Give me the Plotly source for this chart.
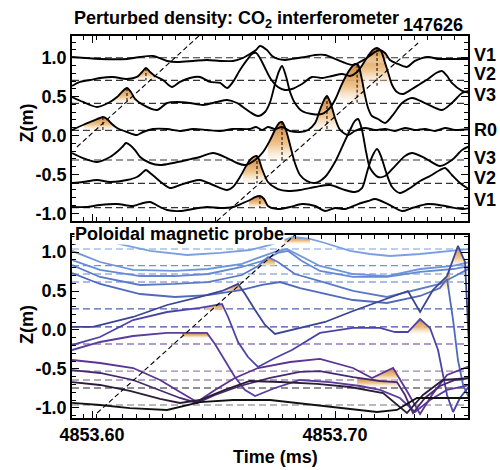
import numpy as np
import plotly.graph_objects as go

# ---------------- data: top panel, CO2 interferometer chords (t in ms, Z in m) -------------
V1U_t = [4853.5918, 4853.6033, 4853.6144, 4853.6198, 4853.6251, 4853.6309, 4853.6350, 4853.6416, 4853.6473, 4853.6527,
         4853.6580, 4853.6621, 4853.6650, 4853.6675, 4853.6691, 4853.6720, 4853.6741, 4853.6765, 4853.6794, 4853.6823,
         4853.6877, 4853.6918, 4853.6959, 4853.7000, 4853.7041, 4853.7074, 4853.7103, 4853.7136, 4853.7165, 4853.7185,
         4853.7206, 4853.7226, 4853.7259, 4853.7296, 4853.7329, 4853.7383, 4853.7424, 4853.7481, 4853.7556]
V1U_z = [1.010, 0.985, 0.985, 1.010, 1.023, 0.959, 0.946, 0.959, 0.972, 0.959,
         0.959, 0.997, 1.049, 1.100, 1.152, 1.100, 1.023, 0.985, 0.972, 0.985,
         1.010, 1.036, 1.036, 0.985, 0.933, 0.907, 0.946, 1.010, 1.075, 1.100,
         1.062, 0.972, 0.920, 0.882, 0.959, 1.010, 0.985, 0.985, 0.985]

V2U_t = [4853.5918, 4853.5951, 4853.5992, 4853.6033, 4853.6086, 4853.6144, 4853.6185, 4853.6206, 4853.6222, 4853.6239,
         4853.6259, 4853.6292, 4853.6329, 4853.6362, 4853.6403, 4853.6444, 4853.6486, 4853.6527, 4853.6556, 4853.6580,
         4853.6609, 4853.6638, 4853.6658, 4853.6675, 4853.6691, 4853.6712, 4853.6733, 4853.6765, 4853.6794, 4853.6823,
         4853.6864, 4853.6905, 4853.6947, 4853.6988, 4853.7029, 4853.7062, 4853.7091, 4853.7115, 4853.7136, 4853.7156,
         4853.7173, 4853.7189, 4853.7206, 4853.7218, 4853.7235, 4853.7255, 4853.7280, 4853.7317, 4853.7350, 4853.7383,
         4853.7416, 4853.7440, 4853.7461, 4853.7481, 4853.7523, 4853.7556]
V2U_z = [0.637, 0.689, 0.714, 0.740, 0.753, 0.727, 0.753, 0.817, 0.869, 0.817,
         0.766, 0.714, 0.624, 0.689, 0.740, 0.753, 0.689, 0.676, 0.611, 0.689,
         0.843, 0.972, 1.049, 1.062, 0.997, 0.869, 0.740, 0.624, 0.586, 0.598,
         0.663, 0.753, 0.740, 0.766, 0.792, 0.766, 0.817, 0.920, 1.023, 1.100,
         1.126, 1.088, 0.933, 0.817, 0.650, 0.560, 0.534, 0.598, 0.663, 0.727,
         0.804, 0.830, 0.766, 0.676, 0.573, 0.547]

V3U_t = [4853.5918, 4853.5963, 4853.6021, 4853.6074, 4853.6103, 4853.6123, 4853.6144, 4853.6160, 4853.6177, 4853.6210,
         4853.6267, 4853.6309, 4853.6350, 4853.6403, 4853.6457, 4853.6514, 4853.6556, 4853.6597, 4853.6621, 4853.6650,
         4853.6683, 4853.6712, 4853.6733, 4853.6753, 4853.6770, 4853.6782, 4853.6798, 4853.6815, 4853.6835, 4853.6864,
         4853.6905, 4853.6947, 4853.6979, 4853.7004, 4853.7025, 4853.7045, 4853.7066, 4853.7082, 4853.7095, 4853.7111,
         4853.7123, 4853.7136, 4853.7152, 4853.7177, 4853.7206, 4853.7235, 4853.7276, 4853.7317, 4853.7370, 4853.7440,
         4853.7481, 4853.7523, 4853.7556]
V3U_z = [0.495, 0.431, 0.367, 0.431, 0.495, 0.560, 0.611, 0.560, 0.470, 0.393,
         0.328, 0.418, 0.431, 0.418, 0.393, 0.431, 0.457, 0.418, 0.367, 0.302,
         0.251, 0.302, 0.431, 0.663, 0.830, 0.894, 0.766, 0.560, 0.418, 0.315,
         0.277, 0.277, 0.354, 0.483, 0.637, 0.766, 0.869, 0.920, 0.907, 0.714,
         0.521, 0.354, 0.251, 0.212, 0.161, 0.251, 0.418, 0.483, 0.418, 0.328,
         0.418, 0.547, 0.573]

R0_t = [4853.5918, 4853.5963, 4853.6004, 4853.6033, 4853.6045, 4853.6062, 4853.6082, 4853.6103, 4853.6144, 4853.6185,
        4853.6210, 4853.6251, 4853.6309, 4853.6362, 4853.6416, 4853.6473, 4853.6527, 4853.6580, 4853.6650, 4853.6675,
        4853.6700, 4853.6724, 4853.6753, 4853.6782, 4853.6815, 4853.6856, 4853.6889, 4853.6918, 4853.6938, 4853.6955,
        4853.6967, 4853.6984, 4853.7000, 4853.7021, 4853.7054, 4853.7082, 4853.7123, 4853.7165, 4853.7206, 4853.7247,
        4853.7288, 4853.7329, 4853.7370, 4853.7412, 4853.7453, 4853.7494, 4853.7556]
R0_z = [0.071, 0.135, 0.187, 0.225, 0.238, 0.212, 0.148, 0.097, 0.045, 0.006,
        0.045, 0.084, 0.084, 0.058, 0.084, 0.071, 0.058, 0.084, 0.084, 0.109,
        0.071, 0.109, 0.084, 0.109, 0.058, 0.045, 0.071, 0.161, 0.328, 0.457,
        0.508, 0.393, 0.225, 0.071, 0.006, 0.058, 0.097, 0.071, 0.084, 0.058,
        0.097, 0.071, 0.084, 0.058, 0.097, 0.071, 0.084]

V3L_t = [4853.5918, 4853.5963, 4853.6021, 4853.6074, 4853.6107, 4853.6128, 4853.6140, 4853.6156, 4853.6177, 4853.6198,
         4853.6239, 4853.6280, 4853.6333, 4853.6391, 4853.6444, 4853.6498, 4853.6556, 4853.6597, 4853.6630, 4853.6671,
         4853.6704, 4853.6733, 4853.6757, 4853.6770, 4853.6782, 4853.6798, 4853.6815, 4853.6835, 4853.6856, 4853.6885,
         4853.6918, 4853.6959, 4853.7000, 4853.7033, 4853.7062, 4853.7082, 4853.7095, 4853.7111, 4853.7128, 4853.7144,
         4853.7177, 4853.7206, 4853.7247, 4853.7288, 4853.7317, 4853.7370, 4853.7432, 4853.7481, 4853.7523, 4853.7556]
V3L_z = [-0.225, -0.290, -0.341, -0.277, -0.199, -0.135, -0.097, -0.122, -0.187, -0.277,
         -0.354, -0.380, -0.354, -0.315, -0.277, -0.225, -0.290, -0.354, -0.380, -0.315,
         -0.212, -0.058, 0.097, 0.161, 0.174, 0.071, -0.122, -0.354, -0.508, -0.586,
         -0.611, -0.534, -0.341, -0.122, 0.071, 0.187, 0.212, 0.071, -0.212, -0.418,
         -0.534, -0.521, -0.393, -0.264, -0.225, -0.290, -0.393, -0.315, -0.187, -0.135]

V2L_t = [4853.5918, 4853.5963, 4853.6021, 4853.6074, 4853.6144, 4853.6185, 4853.6206, 4853.6222, 4853.6239, 4853.6259,
         4853.6288, 4853.6321, 4853.6362, 4853.6403, 4853.6444, 4853.6498, 4853.6556, 4853.6580, 4853.6609, 4853.6634,
         4853.6654, 4853.6679, 4853.6700, 4853.6724, 4853.6765, 4853.6807, 4853.6856, 4853.6918, 4853.6979, 4853.7041,
         4853.7082, 4853.7111, 4853.7132, 4853.7152, 4853.7173, 4853.7189, 4853.7210, 4853.7235, 4853.7267, 4853.7309,
         4853.7350, 4853.7391, 4853.7432, 4853.7453, 4853.7481, 4853.7514, 4853.7556]
V2L_z = [-0.611, -0.598, -0.573, -0.598, -0.573, -0.534, -0.483, -0.444, -0.483, -0.534,
         -0.611, -0.676, -0.637, -0.598, -0.573, -0.637, -0.701, -0.663, -0.534, -0.393,
         -0.302, -0.264, -0.431, -0.598, -0.689, -0.714, -0.701, -0.663, -0.637, -0.701,
         -0.727, -0.676, -0.470, -0.277, -0.174, -0.264, -0.470, -0.663, -0.740, -0.676,
         -0.586, -0.521, -0.444, -0.418, -0.508, -0.611, -0.701]

V1L_t = [4853.5918, 4853.5975, 4853.6033, 4853.6103, 4853.6169, 4853.6210, 4853.6239, 4853.6280, 4853.6309, 4853.6362,
         4853.6416, 4853.6473, 4853.6527, 4853.6580, 4853.6621, 4853.6650, 4853.6671, 4853.6691, 4853.6708, 4853.6724,
         4853.6765, 4853.6815, 4853.6864, 4853.6918, 4853.6959, 4853.7000, 4853.7041, 4853.7095, 4853.7136, 4853.7165,
         4853.7218, 4853.7276, 4853.7317, 4853.7383, 4853.7453, 4853.7523, 4853.7556]
V1L_z = [-0.920, -0.920, -0.894, -0.882, -0.907, -0.869, -0.856, -0.920, -0.959, -0.972,
         -0.946, -0.920, -0.933, -0.920, -0.869, -0.830, -0.792, -0.779, -0.817, -0.907,
         -0.946, -0.920, -0.882, -0.907, -0.972, -0.933, -0.946, -0.882, -0.843, -0.817,
         -0.882, -0.972, -0.933, -0.882, -0.907, -0.946, -0.933]

top_names = ["V1", "V2", "V3", "R0", "V3", "V2", "V1"]
top_base_z = [1.000, 0.708, 0.412, 0.067, -0.315, -0.615, -0.929]
top_label_z = [1.042, 0.785, 0.515, 0.071, -0.283, -0.541, -0.824]

# shaded peaks (channel index, time window, lower level)
top_shade_ch = [1, 2, 3, 4, 5, 6, 3, 2, 1, 0]
top_shade_t0 = [4853.6181, 4853.6091, 4853.5967, 4853.6724, 4853.6621, 4853.6646, 4853.6909, 4853.7021, 4853.7103, 4853.7045]
top_shade_t1 = [4853.6263, 4853.6185, 4853.6091, 4853.6823, 4853.6724, 4853.6733, 4853.7021, 4853.7119, 4853.7235, 4853.7210]
top_shade_zb = [0.708, 0.412, 0.067, -0.315, -0.615, -0.929, 0.067, 0.412, 0.650, 0.930]

# peak markers (vertical dashed lines)
top_peak_ch = [1, 2, 3, 4, 5, 6, 3, 2, 1]
top_peak_t = [4853.6222, 4853.6144, 4853.6045, 4853.6782, 4853.6679, 4853.6691, 4853.6967, 4853.7091, 4853.7173]
top_peak_zb = [0.708, 0.412, 0.067, -0.315, -0.615, -0.929, 0.067, 0.412, 0.640]

# propagation lines
diag_top_t = [[4853.5938, 4853.6440], [4853.6514, 4853.7342]]
diag_top_z = [[-0.148, 1.281], [-1.100, 1.190]]

# ---------------- data: bottom panel, poloidal magnetic probes ----------------
U1_t = [4853.5918, 4853.6033, 4853.6115, 4853.6239, 4853.6391, 4853.6527, 4853.6650, 4853.6733, 4853.6827, 4853.6897,
        4853.6959, 4853.7062, 4853.7144, 4853.7226, 4853.7350, 4853.7461, 4853.7556]
U1_z = [1.259, 1.181, 1.104, 1.015, 0.963, 0.989, 1.027, 1.092, 1.194, 1.169,
        1.117, 1.015, 0.976, 0.950, 0.976, 1.015, 1.040]
U2_t = [4853.5918, 4853.6033, 4853.6169, 4853.6342, 4853.6477, 4853.6617, 4853.6683, 4853.6753, 4853.6802, 4853.6856,
        4853.6938, 4853.7074, 4853.7214, 4853.7350, 4853.7486, 4853.7556]
U2_z = [1.015, 0.873, 0.771, 0.758, 0.783, 0.848, 0.925, 1.002, 1.040, 0.950,
        0.822, 0.719, 0.693, 0.783, 0.822, 0.873]
U3_t = [4853.5918, 4853.6033, 4853.6198, 4853.6342, 4853.6477, 4853.6617, 4853.6700, 4853.6765, 4853.6807, 4853.6864,
        4853.6938, 4853.7074, 4853.7214, 4853.7350, 4853.7486, 4853.7556]
U3_z = [0.899, 0.771, 0.693, 0.693, 0.719, 0.809, 0.886, 0.989, 1.015, 0.886,
        0.758, 0.681, 0.681, 0.745, 0.783, 0.822]
U4_t = [4853.5918, 4853.6033, 4853.6198, 4853.6342, 4853.6477, 4853.6617, 4853.6683, 4853.6724, 4853.6765, 4853.6835,
        4853.6938, 4853.7074, 4853.7214, 4853.7350, 4853.7432, 4853.7486, 4853.7556]
U4_z = [0.835, 0.681, 0.578, 0.591, 0.616, 0.706, 0.822, 0.937, 0.873, 0.719,
        0.629, 0.501, 0.424, 0.527, 0.591, 0.681, 0.796]
U5_t = [4853.5918, 4853.6033, 4853.6198, 4853.6342, 4853.6477, 4853.6617, 4853.6700, 4853.6774, 4853.6856, 4853.6959,
        4853.7074, 4853.7214, 4853.7350, 4853.7432, 4853.7461, 4853.7486, 4853.7506, 4853.7527, 4853.7556]
U5_z = [0.732, 0.591, 0.462, 0.424, 0.449, 0.514, 0.578, 0.616, 0.539, 0.462,
        0.385, 0.347, 0.437, 0.539, 0.655, 0.128, -0.385, -0.706, -0.899]
M1_t = [4853.5918, 4853.6004, 4853.6169, 4853.6309, 4853.6444, 4853.6535, 4853.6601, 4853.6630, 4853.6671, 4853.6712,
        4853.6753, 4853.6856, 4853.6959, 4853.7074, 4853.7214, 4853.7300, 4853.7350, 4853.7403, 4853.7461, 4853.7506,
        4853.7535, 4853.7547, 4853.7556]
M1_z = [0.039, 0.039, 0.167, 0.321, 0.424, 0.501, 0.591, 0.462, 0.257, 0.064,
        -0.051, 0.026, 0.103, 0.244, 0.398, 0.501, 0.231, 0.514, 0.693, 1.079,
        0.873, 0.000, -0.514]
M2_t = [4853.5918, 4853.6033, 4853.6169, 4853.6309, 4853.6444, 4853.6535, 4853.6560, 4853.6601, 4853.6642, 4853.6683,
        4853.6753, 4853.6823, 4853.6938, 4853.7074, 4853.7185, 4853.7247, 4853.7300, 4853.7350, 4853.7391, 4853.7424,
        4853.7461, 4853.7486, 4853.7514, 4853.7556]
M2_z = [-0.193, -0.090, 0.128, 0.231, 0.283, 0.334, 0.167, -0.154, -0.347, -0.475,
        -0.360, -0.257, -0.038, 0.026, 0.026, -0.026, -0.026, 0.141, 0.026, -0.257,
        -0.835, -1.053, -0.873, -0.706]
M3_t = [4853.5918, 4853.6033, 4853.6169, 4853.6309, 4853.6403, 4853.6473, 4853.6506, 4853.6547, 4853.6588, 4853.6630,
        4853.6671, 4853.6753, 4853.6856, 4853.6979, 4853.7103, 4853.7185, 4853.7267, 4853.7329, 4853.7391, 4853.7461,
        4853.7556]
M3_z = [-0.257, -0.154, -0.077, -0.038, -0.038, -0.038, -0.180, -0.398, -0.604, -0.770,
        -0.848, -0.745, -0.642, -0.668, -0.719, -0.770, -0.873, -1.053, -0.899, -0.770,
        -0.706]
M4_t = [4853.5918, 4853.6033, 4853.6169, 4853.6280, 4853.6362, 4853.6432, 4853.6506, 4853.6588, 4853.6683, 4853.6815,
        4853.6938, 4853.7074, 4853.7152, 4853.7206, 4853.7239, 4853.7296, 4853.7350, 4853.7399, 4853.7461, 4853.7556]
M4_z = [-0.385, -0.424, -0.488, -0.642, -0.796, -0.925, -0.770, -0.616, -0.488, -0.411,
        -0.372, -0.488, -0.616, -0.539, -0.488, -0.783, -1.079, -0.835, -0.578, -0.462]
M5_t = [4853.5918, 4853.6033, 4853.6169, 4853.6280, 4853.6362, 4853.6432, 4853.6506, 4853.6609, 4853.6733, 4853.6856,
        4853.6938, 4853.7074, 4853.7185, 4853.7255, 4853.7288, 4853.7321, 4853.7370, 4853.7432, 4853.7494, 4853.7556]
M5_z = [-0.514, -0.552, -0.642, -0.770, -0.873, -0.937, -0.835, -0.719, -0.616, -0.539,
        -0.527, -0.604, -0.655, -0.668, -0.835, -1.066, -0.873, -0.719, -0.642, -0.616]
M6_t = [4853.5918, 4853.6033, 4853.6156, 4853.6280, 4853.6362, 4853.6444, 4853.6547, 4853.6650, 4853.6774, 4853.6926,
        4853.7062, 4853.7198, 4853.7296, 4853.7362, 4853.7444, 4853.7556]
M6_z = [-0.668, -0.706, -0.783, -0.886, -0.937, -0.899, -0.770, -0.655, -0.668, -0.693,
        -0.732, -0.809, -1.066, -0.835, -0.642, -0.616]
M7_t = [4853.5918, 4853.6033, 4853.6156, 4853.6309, 4853.6444, 4853.6580, 4853.6733, 4853.6926, 4853.7062, 4853.7173,
        4853.7255, 4853.7337, 4853.7432, 4853.7556]
M7_z = [-0.937, -0.963, -1.002, -1.027, -0.925, -0.899, -0.899, -0.963, -1.015, -1.053,
        -1.027, -0.873, -0.873, -0.873]

bot_colors = ["#7ba0e2", "#7094dc", "#6689d3", "#5b7bc9", "#5069bd", "#3b4592",
              "#4c43a8", "#5b3b9e", "#5c3492", "#482a72", "#2b1d3a", "#111111"]
bot_base_z = [1.040, 0.826, 0.719, 0.616, 0.270, 0.039, -0.180, -0.527, -0.642, -0.745, -0.963]
bot_base_col = ["#7ba0e2", "#7094dc", "#6689d3", "#5b7bc9", "#4d64b8", "#4a48a8",
                "#5b3ba2", "#9888ab", "#6a5888", "#222222", "#777777"]

bot_shade_line = [7, 6, 5, 3, 0, 5, 5, 6, 8, 9]
bot_shade_t0 = [4853.6370, 4853.6465, 4853.6498, 4853.6658, 4853.6782, 4853.7481, 4853.7416, 4853.7309, 4853.7152, 4853.7091]
bot_shade_t1 = [4853.6494, 4853.6552, 4853.6626, 4853.6753, 4853.6897, 4853.7531, 4853.7473, 4853.7403, 4853.7255, 4853.7255]
bot_shade_zb = [-0.103, 0.244, 0.475, 0.809, 1.104, 0.822, 0.514, -0.051, -0.655, -0.732]

diag_bot_t = [4853.6021, 4853.6835]
diag_bot_z = [-1.066, 1.220]

x_tickvals = [4853.60, 4853.70]
x_ticktext = ["4853.60", "4853.70"]
y_tickvals = [-1.0, -0.5, 0.0, 0.5, 1.0]
y_ticktext = ["-1.0", "-0.5", "0.0", "0.5", "1.0"]

# ---------------- figure ----------------
top_t = [V1U_t, V2U_t, V3U_t, R0_t, V3L_t, V2L_t, V1L_t]
top_z = [V1U_z, V2U_z, V3U_z, R0_z, V3L_z, V2L_z, V1L_z]
bot_t = [U1_t, U2_t, U3_t, U4_t, U5_t, M1_t, M2_t, M3_t, M4_t, M5_t, M6_t, M7_t]
bot_z = [U1_z, U2_z, U3_z, U4_z, U5_z, M1_z, M2_z, M3_z, M4_z, M5_z, M6_z, M7_z]

XR = [4853.59177, 4853.75473]
FONT = "Liberation Sans, Arial, Helvetica, sans-serif"
SHADE = [[0.0, "rgba(250,236,218,0.25)"], [0.4, "rgba(238,192,132,0.9)"], [1.0, "rgba(206,130,56,1.0)"]]

fig = go.Figure()


def segment(t, z, t0, t1):
    t = np.asarray(t, float)
    z = np.asarray(z, float)
    m = (t > t0) & (t < t1)
    ts = np.concatenate([[t0], t[m], [t1]])
    zs = np.concatenate([[np.interp(t0, t, z)], z[m], [np.interp(t1, t, z)]])
    return ts, zs


def add_shade(ts, zs, zb, shape, xa, ya):
    fig.add_trace(go.Scatter(x=[ts[0], ts[-1]], y=[zb, zb], mode="lines", line=dict(width=0),
                             xaxis=xa, yaxis=ya, hoverinfo="skip"))
    fig.add_trace(go.Scatter(x=ts, y=zs, mode="lines", line=dict(width=0, shape=shape, smoothing=0.8),
                             fill="tonexty",
                             fillgradient=dict(type="vertical", start=zb, stop=float(max(zs)), colorscale=SHADE),
                             xaxis=xa, yaxis=ya, hoverinfo="skip"))


# top panel
for zb in top_base_z:
    fig.add_trace(go.Scatter(x=XR, y=[zb, zb], mode="lines",
                             line=dict(color="#333333", width=1.2, dash="7px,4px"), xaxis="x", yaxis="y"))
for ch, t0, t1, zb in zip(top_shade_ch, top_shade_t0, top_shade_t1, top_shade_zb):
    ts, zs = segment(top_t[ch], top_z[ch], t0, t1)
    add_shade(ts, zs, zb, "spline", "x", "y")
for t, z in zip(top_t, top_z):
    fig.add_trace(go.Scatter(x=t, y=z, mode="lines",
                             line=dict(color="black", width=1.9, shape="spline", smoothing=0.8),
                             xaxis="x", yaxis="y"))
for ch, tp, zb in zip(top_peak_ch, top_peak_t, top_peak_zb):
    ztop = float(np.interp(tp, top_t[ch], top_z[ch]))
    fig.add_trace(go.Scatter(x=[tp, tp], y=[ztop, zb], mode="lines",
                             line=dict(color="black", width=1.0, dash="3px,2px"), xaxis="x", yaxis="y"))
for t, z in zip(diag_top_t, diag_top_z):
    fig.add_trace(go.Scatter(x=t, y=z, mode="lines",
                             line=dict(color="black", width=1.1, dash="5px,3px"), xaxis="x", yaxis="y"))

# bottom panel
for zb, c in zip(bot_base_z, bot_base_col):
    fig.add_trace(go.Scatter(x=XR, y=[zb, zb], mode="lines",
                             line=dict(color=c, width=1.2, dash="7px,4px"), xaxis="x2", yaxis="y2"))
for li, t0, t1, zb in zip(bot_shade_line, bot_shade_t0, bot_shade_t1, bot_shade_zb):
    ts, zs = segment(bot_t[li], bot_z[li], t0, t1)
    add_shade(ts, zs, zb, "linear", "x2", "y2")
for t, z, c in zip(bot_t, bot_z, bot_colors):
    fig.add_trace(go.Scatter(x=t, y=z, mode="lines", line=dict(color=c, width=1.8),
                             xaxis="x2", yaxis="y2"))
fig.add_trace(go.Scatter(x=diag_bot_t, y=diag_bot_z, mode="lines",
                         line=dict(color="black", width=1.1, dash="5px,3px"), xaxis="x2", yaxis="y2"))

tickfont = dict(family=FONT, size=18, color="black", weight="bold")
common_x = dict(range=XR, showgrid=False, zeroline=False, showline=True, linecolor="black", linewidth=1.5,
                mirror="allticks", ticks="inside", ticklen=7, tickwidth=1.2, tickcolor="black",
                tickvals=x_tickvals, ticktext=x_ticktext, tickfont=tickfont, automargin=False,
                minor=dict(ticks="inside", ticklen=4, tickwidth=1, tickcolor="black",
                           tick0=4853.70, dtick=0.005453, showgrid=False))
common_y = dict(showgrid=False, zeroline=False, showline=True, linecolor="black", linewidth=1.5,
                mirror="allticks", ticks="inside", ticklen=7, tickwidth=1.2, tickcolor="black",
                tickvals=y_tickvals, ticktext=y_ticktext, tickfont=tickfont, automargin=False,
                minor=dict(ticks="inside", ticklen=4, tickwidth=1, tickcolor="black",
                           tick0=0, dtick=0.1, showgrid=False))

fig.update_layout(
    width=500, height=470, margin=dict(l=72, r=32, t=36, b=52),
    paper_bgcolor="white", plot_bgcolor="white", showlegend=False,
    xaxis=dict(domain=[0, 1], anchor="y", showticklabels=False, **common_x),
    xaxis2=dict(domain=[0, 1], anchor="y2", matches="x", showticklabels=True, **common_x),
    yaxis=dict(domain=[0.5157, 1.0], anchor="x", range=[-1.10, 1.28], **common_y),
    yaxis2=dict(domain=[0.0, 0.4791], anchor="x2", range=[-1.13, 1.22], **common_y),
)

lab = dict(family=FONT, size=18, color="black", weight="bold")
ann = [
    dict(text="Perturbed density: CO<sub>2</sub> interferometer", x=0.0, y=1.0445, xref="paper", yref="paper",
         xanchor="left", yanchor="middle", showarrow=False, font=lab),
    dict(text="147626", x=0.9924, y=1.0288, xref="paper", yref="paper",
         xanchor="right", yanchor="middle", showarrow=False, font=lab),
    dict(text="Poloidal magnetic probe", x=0.005, y=0.4817, xref="paper", yref="paper",
         xanchor="left", yanchor="middle", showarrow=False, font=lab, bgcolor="white", borderpad=0),
    dict(text="Z(m)", x=-0.1136, y=0.771, xref="paper", yref="paper", textangle=-90,
         xanchor="center", yanchor="middle", showarrow=False, font=lab),
    dict(text="Z(m)", x=-0.1136, y=0.2435, xref="paper", yref="paper", textangle=-90,
         xanchor="center", yanchor="middle", showarrow=False, font=lab),
    dict(text="Time (ms)", x=0.5139, y=-0.1021, xref="paper", yref="paper",
         xanchor="center", yanchor="middle", showarrow=False, font=lab),
]
for name, zl in zip(top_names, top_label_z):
    ann.append(dict(text=name, x=1.0101, y=zl, xref="paper", yref="y", xanchor="left", yanchor="middle",
                    showarrow=False, font=lab))
fig.update_layout(annotations=ann)

fig.write_html("out.html", config={"displayModeBar": False},
               post_script="document.body.style.margin='0px';document.body.style.padding='0px';")
